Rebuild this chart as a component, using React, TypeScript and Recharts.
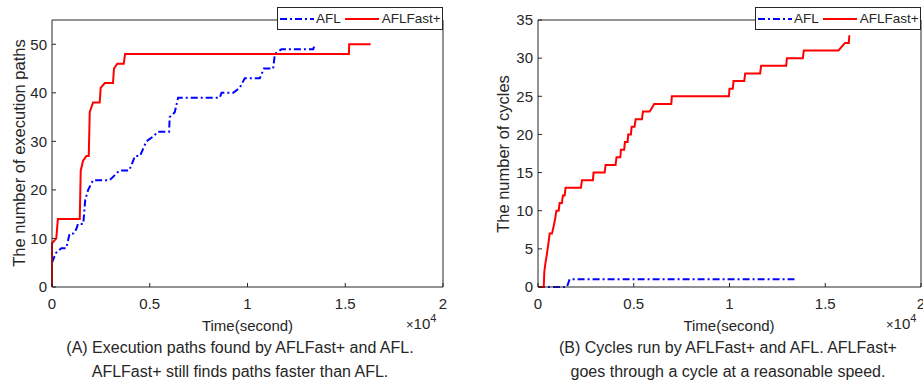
import React from 'react';
import { LineChart, Line, XAxis, YAxis } from 'recharts';

const SERIES = ['AFL', 'AFLFast+'];
const BLUE = '#0000ff';
const RED = '#ff0000';
const AXIS = '#262626';
const DASHDOT = '7 3 2 3';

// time in seconds
const X_TICKS = [0, 5000, 10000, 15000, 20000];

// (A) execution paths
const pathsAflT = [0, 200, 480, 730, 900, 1100, 1250, 1330, 1600, 1700, 1850, 2100, 2950, 3200, 3450, 3950, 4250, 4500, 4830, 5170, 5430, 5990, 6020, 6280, 6450, 8580, 8670, 9270, 9600, 9860, 10630, 10840, 11310, 11400, 11740, 13360, 13450];
const pathsAflV = [5, 7, 8, 8, 11, 11, 12, 13, 13, 18, 20, 22, 22, 23, 24, 24, 27, 27, 30, 31, 32, 32, 35, 36, 39, 39, 40, 40, 41, 43, 43, 45, 45, 48, 49, 49, 50];
const pathsFastT = [0, 0, 220, 300, 1420, 1470, 1590, 1760, 1880, 1930, 2100, 2440, 2490, 2700, 3120, 3170, 3340, 3670, 3740, 15190, 15200, 16300];
const pathsFastV = [0, 9, 10, 14, 14, 24, 26, 27, 27, 36, 38, 38, 41, 42, 42, 45, 46, 46, 48, 48, 50, 50];
const pathsTicks = [0, 10, 20, 30, 40, 50];

// (B) cycles
const cyclesAflT = [0, 1510, 1650, 13390];
const cyclesAflV = [0, 0, 1, 1];
const cyclesFastT = [0, 300, 330, 380, 470, 560, 610, 730, 820, 900, 960, 1080, 1130, 1250, 1300, 1390, 1440, 2240, 2300, 2870, 2900, 3480, 3530, 4050, 4100, 4300, 4330, 4500, 4540, 4680, 4710, 4850, 4890, 5040, 5100, 5430, 5480, 5830, 6070, 6960, 6990, 9970, 10000, 10170, 10210, 10770, 10820, 11600, 11650, 12960, 13000, 13830, 13880, 15690, 16030, 16230, 16260];
const cyclesFastV = [0, 0, 2, 3, 4.4, 6, 7, 7, 8, 9, 10, 10, 11, 11, 12, 12, 13, 13, 14, 14, 15, 15, 16, 16, 17, 17, 18, 18, 19, 19, 20, 20, 21, 21, 22, 22, 23, 23, 24, 24, 25, 25, 26, 26, 27, 27, 28, 28, 29, 29, 30, 30, 31, 31, 32, 32, 33];
const cyclesTicks = [0, 5, 10, 15, 20, 25, 30, 35];

type Pt = { t: number; v: number };
const zip = (ts: number[], vs: number[]): Pt[] => ts.map((t, i) => ({ t, v: vs[i] }));

const fmtX = (v: number) => String(v / 10000);

interface PanelProps {
  left: number;
  width: number;
  yAxisW: number;
  marginRight: number;
  yMax: number;
  yTicks: number[];
  afl: Pt[];
  fast: Pt[];
}

const Panel: React.FC<PanelProps> = ({ left, width, yAxisW, marginRight, yMax, yTicks, afl, fast }) => (
  <LineChart
    width={width}
    height={383}
    margin={{ top: 19, right: marginRight, bottom: 66, left: 0 }}
    style={{ position: 'absolute', left, top: 0 }}
  >
    <XAxis xAxisId="b" dataKey="t" type="number" domain={[0, 20000]} ticks={X_TICKS} interval={0}
      tickFormatter={fmtX} height={30} tickSize={-4} tickMargin={15} stroke={AXIS}
      tick={{ fill: AXIS, fontSize: 15 }} />
    <XAxis xAxisId="top" orientation="top" dataKey="t" type="number" domain={[0, 20000]} ticks={X_TICKS}
      interval={0} height={1} tick={false} tickSize={-4} stroke={AXIS} />
    <YAxis yAxisId="l" type="number" domain={[0, yMax]} ticks={yTicks} interval={0} width={yAxisW}
      tickSize={-4} tickMargin={9} stroke={AXIS} tick={{ fill: AXIS, fontSize: 15 }} />
    <YAxis yAxisId="r" orientation="right" type="number" domain={[0, yMax]} ticks={yTicks} interval={0}
      width={1} tick={false} tickSize={-4} stroke={AXIS} />
    <Line xAxisId="b" yAxisId="l" data={afl} dataKey="v" name={SERIES[0]} type="linear" stroke={BLUE}
      strokeWidth={2} strokeDasharray={DASHDOT} dot={false} isAnimationActive={false} />
    <Line xAxisId="b" yAxisId="l" data={fast} dataKey="v" name={SERIES[1]} type="linear" stroke={RED}
      strokeWidth={2} dot={false} isAnimationActive={false} />
  </LineChart>
);

const LegendBox: React.FC<{ left: number }> = ({ left }) => (
  <div style={{
    position: 'absolute', left, top: 7, width: 166, height: 23, boxSizing: 'border-box',
    border: `1px solid ${AXIS}`, background: '#fff', display: 'flex', alignItems: 'center', fontSize: 13.5,
  }}>
    <svg width={34} height={4} style={{ marginLeft: 2 }}>
      <line x1={0} y1={2} x2={34} y2={2} stroke={BLUE} strokeWidth={2} strokeDasharray={DASHDOT} />
    </svg>
    <span style={{ marginLeft: 2 }}>{SERIES[0]}</span>
    <svg width={34} height={4} style={{ marginLeft: 4 }}>
      <line x1={0} y1={2} x2={34} y2={2} stroke={RED} strokeWidth={2} />
    </svg>
    <span style={{ marginLeft: 3 }}>{SERIES[1]}</span>
  </div>
);

const abs = (left: number, top: number, extra: React.CSSProperties = {}): React.CSSProperties => ({
  position: 'absolute', left, top, whiteSpace: 'nowrap', ...extra,
});

const Exponent: React.FC<{ left: number }> = ({ left }) => (
  <div style={abs(left, 315, { fontSize: 15 })}>
    <span style={{ fontSize: 13 }}>×</span>10
    <span style={{ fontSize: 11, position: 'relative', top: -7 }}>4</span>
  </div>
);

export default function App() {
  return (
    <div style={{
      position: 'absolute', left: 0, top: 0, width: 923, height: 383, background: '#fff', overflow: 'hidden',
      fontFamily: '"Liberation Sans", Arial, Helvetica, sans-serif', color: AXIS,
    }}>
      <Panel left={0} width={460} yAxisW={52} marginRight={16} yMax={55} yTicks={pathsTicks}
        afl={zip(pathsAflT, pathsAflV)} fast={zip(pathsFastT, pathsFastV)} />
      <Panel left={460} width={463} yAxisW={78} marginRight={1} yMax={35} yTicks={cyclesTicks}
        afl={zip(cyclesAflT, cyclesAflV)} fast={zip(cyclesFastT, cyclesFastV)} />

      <LegendBox left={277} />
      <LegendBox left={755} />

      <div style={abs(18.5, 153, { fontSize: 16.5, transform: 'translate(-50%, -50%) rotate(-90deg)' })}>
        The number of execution paths
      </div>
      <div style={abs(503, 154, { fontSize: 16.5, transform: 'translate(-50%, -50%) rotate(-90deg)' })}>
        The number of cycles
      </div>

      <div style={abs(247.5, 325, { fontSize: 15, transform: 'translate(-50%, -50%)' })}>Time(second)</div>
      <div style={abs(729, 325, { fontSize: 15, transform: 'translate(-50%, -50%)' })}>Time(second)</div>
      <Exponent left={406} />
      <Exponent left={886} />

      <div style={abs(8, 336, { width: 464, textAlign: 'center', fontSize: 16, lineHeight: '24px' })}>
        (A) Execution paths found by AFLFast+ and AFL.<br />AFLFast+ still finds paths faster than AFL.
      </div>
      <div style={abs(496, 336, { width: 464, textAlign: 'center', fontSize: 16, lineHeight: '24px' })}>
        (B) Cycles run by AFLFast+ and AFL. AFLFast+<br />goes through a cycle at a reasonable speed.
      </div>
    </div>
  );
}
